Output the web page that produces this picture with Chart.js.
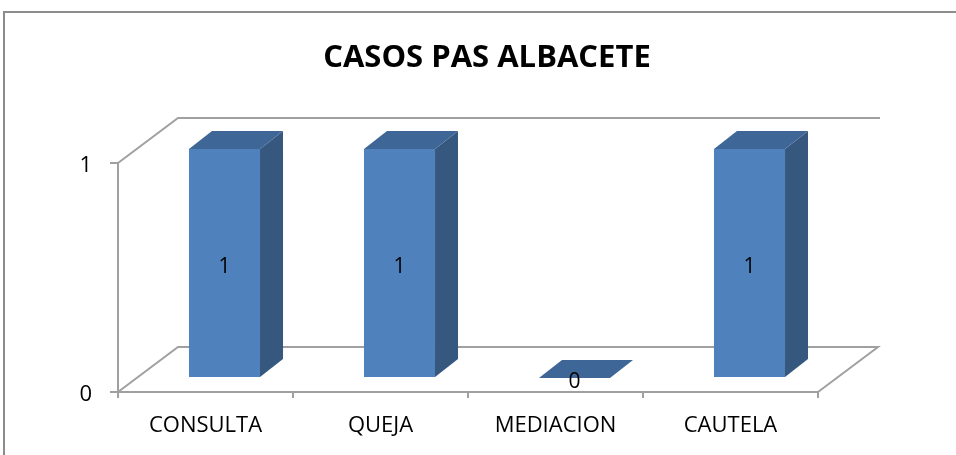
<!DOCTYPE html>
<html>
<head>
<meta charset="utf-8">
<script src="https://cdn.jsdelivr.net/npm/chart.js@4/dist/chart.umd.min.js"></script>
<style>
  html, body { margin: 0; padding: 0; background: #ffffff; }
  #c { display: block; }
</style>
</head>
<body>
<canvas id="c" width="956" height="455"></canvas>
<script>
const categories = ['CONSULTA', 'QUEJA', 'MEDIACION', 'CAUTELA'];
const casos = [1, 1, 0, 1];
const yTickValues = [0, 1];
const chartTitle = 'CASOS PAS ALBACETE';

const FONT = "'Open Sans', 'Liberation Sans', sans-serif";
const AXIS_GRAY = '#a0a0a0';
const DEPTH = { dx: 60, dy: -45 };
const BAR_SHIFT = { dx: 19, dy: -14 };
const BAR_DEPTH = { dx: 23, dy: -18 };

const threeD = {
  id: 'threeD',
  beforeDraw(chart) {
    const ctx = chart.ctx;
    ctx.save();
    ctx.strokeStyle = '#8c8c8c';
    ctx.lineWidth = 2;
    ctx.strokeRect(4, 12, 1200, 1200);
    // chart title
    ctx.fillStyle = '#000000';
    ctx.font = 'bold 31px ' + FONT;
    ctx.textAlign = 'center';
    ctx.textBaseline = 'alphabetic';
    ctx.fillText(chartTitle, 487, 67);
    ctx.restore();
  },
  beforeDatasetsDraw(chart) {
    const ctx = chart.ctx;
    const a = chart.chartArea;
    ctx.save();
    ctx.strokeStyle = AXIS_GRAY;
    ctx.lineWidth = 2;
    ctx.lineJoin = 'miter';
    // back wall top edge
    ctx.beginPath();
    ctx.moveTo(a.left, a.top);
    ctx.lineTo(a.left + DEPTH.dx, a.top + DEPTH.dy);
    ctx.lineTo(a.right + DEPTH.dx + 2, a.top + DEPTH.dy);
    ctx.stroke();
    // floor outline
    ctx.beginPath();
    ctx.moveTo(a.left, a.bottom);
    ctx.lineTo(a.left + DEPTH.dx, a.bottom + DEPTH.dy);
    ctx.lineTo(a.right + DEPTH.dx, a.bottom + DEPTH.dy);
    ctx.lineTo(a.right, a.bottom);
    ctx.stroke();
    ctx.restore();
    ctx.save();
    ctx.translate(BAR_SHIFT.dx, BAR_SHIFT.dy);
  },
  afterDatasetsDraw(chart) {
    const ctx = chart.ctx;
    const meta = chart.getDatasetMeta(0);
    meta.data.forEach((bar, i) => {
      const p = bar.getProps(['x', 'y', 'base', 'width'], true);
      const xl = p.x - p.width / 2, xr = p.x + p.width / 2;
      const yt = Math.min(p.y, p.base), yb = Math.max(p.y, p.base);
      // side face
      if (yb - yt > 0.5) {
        ctx.fillStyle = '#36587f';
        ctx.beginPath();
        ctx.moveTo(xr, yt);
        ctx.lineTo(xr + BAR_DEPTH.dx, yt + BAR_DEPTH.dy);
        ctx.lineTo(xr + BAR_DEPTH.dx, yb + BAR_DEPTH.dy);
        ctx.lineTo(xr, yb);
        ctx.closePath();
        ctx.fill();
      }
      // top face
      ctx.fillStyle = '#3e6697';
      ctx.beginPath();
      ctx.moveTo(xl, yt);
      ctx.lineTo(xl + BAR_DEPTH.dx, yt + BAR_DEPTH.dy);
      ctx.lineTo(xr + BAR_DEPTH.dx, yt + BAR_DEPTH.dy);
      ctx.lineTo(xr, yt);
      ctx.closePath();
      ctx.fill();
      // value label
      ctx.fillStyle = '#000000';
      ctx.font = '21px ' + FONT;
      ctx.textAlign = 'center';
      ctx.textBaseline = 'middle';
      ctx.fillText(String(casos[i]), p.x, (yt + yb) / 2 + 4);
    });
    ctx.restore();
  }
};

new Chart(document.getElementById('c'), {
  type: 'bar',
  data: {
    labels: categories,
    datasets: [{
      label: 'CASOS',
      data: casos,
      backgroundColor: '#4f81bd',
      borderWidth: 0,
      categoryPercentage: 0.406,
      barPercentage: 1,
      clip: false
    }]
  },
  options: {
    responsive: false,
    devicePixelRatio: 1,
    animation: false,
    layout: { padding: { left: 0, right: 138, top: 163, bottom: 0 } },
    plugins: {
      legend: { display: false },
      tooltip: { enabled: false },
      title: { display: false }
    },
    scales: {
      x: {
        offset: true,
        grid: { display: true, drawOnChartArea: false, drawTicks: true, tickLength: 6, color: AXIS_GRAY, lineWidth: 2, offset: true },
        border: { display: true, color: AXIS_GRAY, width: 2 },
        ticks: { color: '#000000', font: { family: FONT, size: 22 }, padding: 15, maxRotation: 0, autoSkip: false },
        afterFit(s) { s.height = 63; }
      },
      y: {
        min: 0,
        max: 1,
        afterBuildTicks(s) { s.ticks = yTickValues.map(v => ({ value: v })); },
        grid: { display: true, drawOnChartArea: false, drawTicks: true, tickLength: 8, color: AXIS_GRAY, lineWidth: 2 },
        border: { display: true, color: AXIS_GRAY, width: 2 },
        ticks: { color: '#000000', font: { family: FONT, size: 22 }, padding: 18, labelOffset: 3 },
        afterFit(s) { s.width = 118; }
      }
    }
  },
  plugins: [threeD]
});
</script>
</body>
</html>
